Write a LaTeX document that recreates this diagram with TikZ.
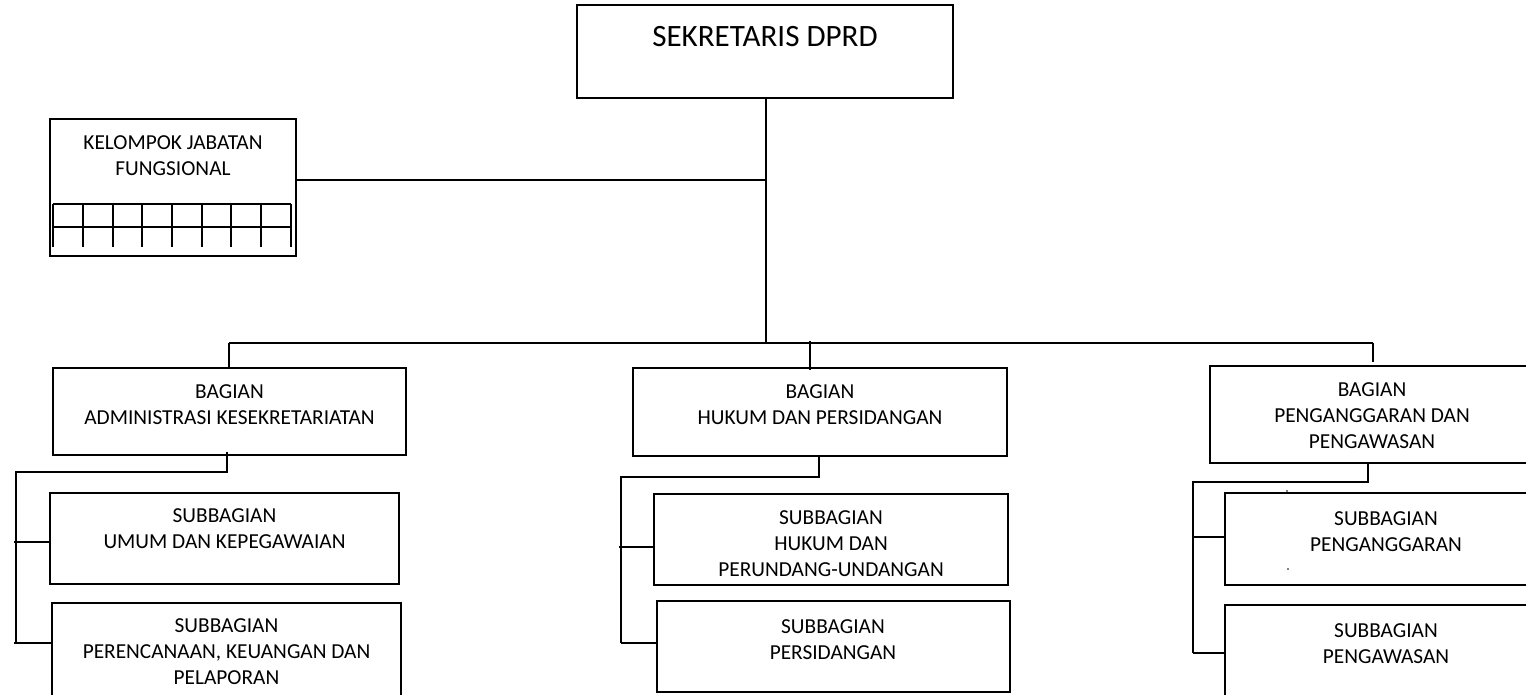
\documentclass[tikz,border=0pt]{standalone}
\usepackage{fontspec}
\setmainfont{Carlito}
\usetikzlibrary{fit}
\tikzset{
  box/.style={draw, line width=1pt, inner sep=0pt, rectangle},
  conn/.style={line width=1.6pt},
  bus/.style={line width=2.2pt},
  gridline/.style={line width=1.6pt},
  txt/.style={align=center, font=\fontsize{16}{19.5}\selectfont, inner sep=0pt},
  bigtxt/.style={align=center, font=\fontsize{23.3}{27}\selectfont, inner sep=0pt},
}
\begin{document}
\begin{tikzpicture}[x=0.75pt,y=-0.75pt]
\clip (0,0) rectangle (1526,694);
\fill[white] (0,0) rectangle (1526,694);
% boxes
\node[box, fit={(577,5) (953,98)}] (sek) {};
\node[box, fit={(50,119) (296,256)}] (kjf) {};
\node[box, fit={(53,368) (406,455)}] (b1) {};
\node[box, fit={(633,368) (1007,456)}] (b2) {};
\node[box, fit={(1210,366) (1534,463)}] (b3) {};
\node[box, fit={(50,493) (399,584)}] (s11) {};
\node[box, fit={(52,603) (401,720)}] (s12) {};
\node[box, fit={(654,494) (1008,585)}] (s21) {};
\node[box, fit={(657,601) (1010,692)}] (s22) {};
\node[box, fit={(1225,493) (1549,585)}] (s31) {};
\node[box, fit={(1225,605) (1549,720)}] (s32) {};
% texts
\node[bigtxt] (tsek) at (765,37) {SEKRETARIS DPRD};
\node[txt] (tkjf) at (173,155.5) {KELOMPOK JABATAN\\FUNGSIONAL};
\node[txt] (tb1) at (229.5,405) {BAGIAN\\ADMINISTRASI KESEKRETARIATAN};
\node[txt] (tb2) at (820,405) {BAGIAN\\HUKUM DAN PERSIDANGAN};
\node[txt] (tb3) at (1372,416) {BAGIAN\\PENGANGGARAN DAN\\PENGAWASAN};
\node[txt] (ts11) at (224.5,529) {SUBBAGIAN\\UMUM DAN KEPEGAWAIAN};
\node[txt] (ts12) at (226.5,652) {SUBBAGIAN\\PERENCANAAN, KEUANGAN DAN\\PELAPORAN};
\node[txt] (ts21) at (831,544) {SUBBAGIAN\\HUKUM DAN\\PERUNDANG-UNDANGAN};
\node[txt] (ts22) at (833,639.5) {SUBBAGIAN\\PERSIDANGAN};
\node[txt] (ts31) at (1386,531.5) {SUBBAGIAN\\PENGANGGARAN};
\node[txt] (ts32) at (1386,643.5) {SUBBAGIAN\\PENGAWASAN};
% grid in kelompok box
\draw[gridline] (53,204) -- (291,204);
\draw[gridline] (53,227) -- (291,227);
\foreach \gx in {53,83,113,142,172,202,231,261,291}
  \draw[gridline] (\gx,204) -- (\gx,247);
% stray dots
\fill (1287,491) circle[radius=0.6pt];
\fill (1288,569) circle[radius=0.6pt];
% main trunk
\coordinate (busc) at (766,343);
\coordinate (kj) at (296,180);
\coordinate (busl) at (229,343);
\coordinate (busr) at (1373,343);
\coordinate (busm) at (810,341);
\draw[conn] (766,98) -- (busc);
\draw[conn] (kjf.east |- kj) -- (kj -| busc);
\draw[bus] (busl) -- (busr);
\draw[conn] (busl) -- (b1.north -| busl);
\draw[line width=1.2pt] (busm) -- (810,370);
\draw[conn] (busr) -- (1373,362);
% left group
\coordinate (l1) at (227,472);
\coordinate (l2) at (16,472);
\coordinate (l3) at (16,643);
\draw[conn] (227,452) -- (l1) -- (l2) -- (l3);
\draw[conn] (14,542) -- (s11.west |- 0,542);
\draw[conn] (14,643) -- (s12.west |- 0,643);
% middle group
\coordinate (m1) at (819,477);
\coordinate (m2) at (621,477);
\coordinate (m3) at (621,643);
\draw[conn] (b2.south -| m1) -- (m1) -- (m2) -- (m3);
\draw[conn] (619,547) -- (s21.west |- 0,547);
\draw[conn] (m3) -- (s22.west |- m3);
% right group
\coordinate (r1) at (1368,482);
\coordinate (r2) at (1193,482);
\coordinate (r3) at (1193,653);
\draw[conn] (b3.south -| r1) -- (r1) -- (r2) -- (r3);
\draw[conn] (1193,537) -- (s31.west |- 0,537);
\draw[conn] (r3) -- (s32.west |- r3);
\end{tikzpicture}
\end{document}
